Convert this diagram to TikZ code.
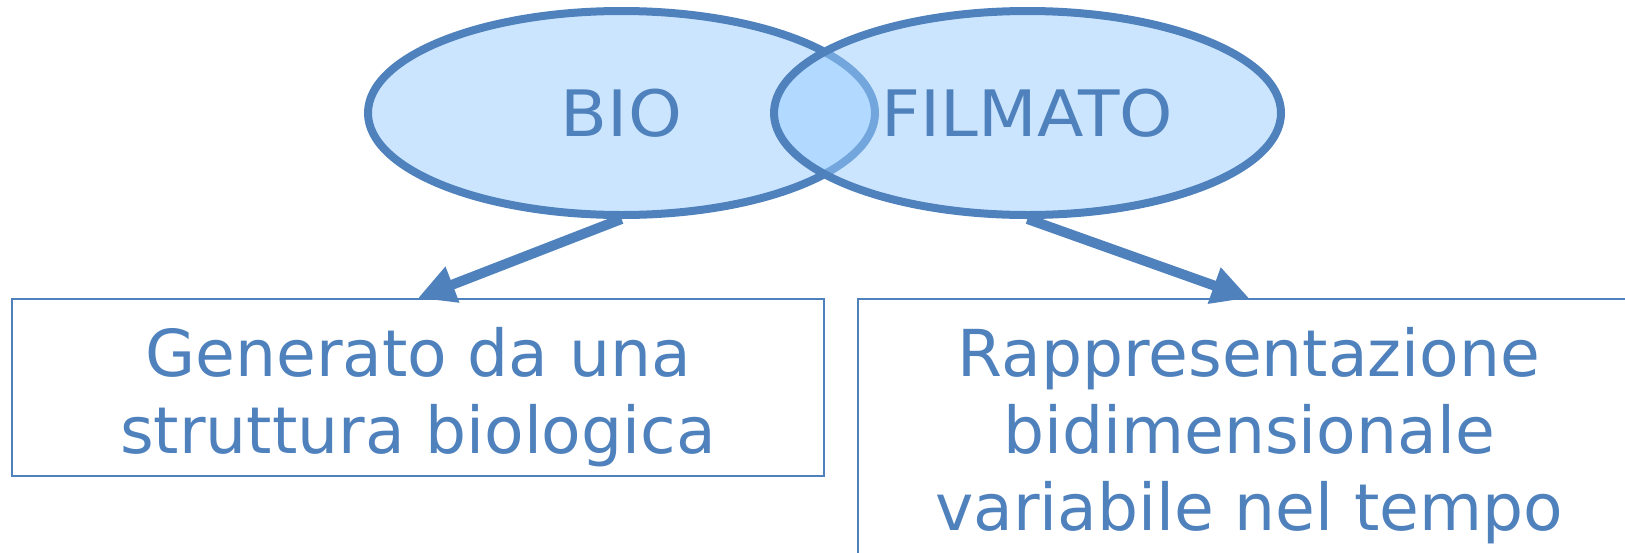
\documentclass[tikz,border=0pt]{standalone}
\usepackage{fontspec}
\setmainfont{DejaVu Sans}
\usetikzlibrary{shapes.geometric,arrows.meta}
\definecolor{bord}{HTML}{4F81BD}
\definecolor{fillb}{RGB}{153,204,255}
\tikzset{
  ell/.style={ellipse, draw=bord, line width=8pt, fill=fillb, fill opacity=0.5, text opacity=1,
    minimum width=507pt, minimum height=204pt, inner sep=0pt, text=bord,
    font=\fontsize{64}{77}\selectfont},
  boxn/.style={rectangle, draw=bord, line width=2pt, inner sep=0pt},
  txt/.style={text=bord, inner sep=0pt, anchor=base, font=\fontsize{64.7}{77}\selectfont},
  conn/.style={draw=bord, line width=10pt, -{Triangle[length=37pt,width=36pt]}}
}
\begin{document}
\begin{tikzpicture}[x=1pt,y=-1pt]
\useasboundingbox (0,0) rectangle (1625,552);
\node[ell] (bio) at (621.5,113) {\scalebox{1.07}[1]{BIO}};
\node[ell] (film) at (1027.5,113) {\scalebox{1.06}[1]{FILMATO}};
\node[boxn, minimum width=812pt, minimum height=177pt] (lbox) at (418,387.5) {};
\node[boxn, minimum width=782pt, minimum height=320pt] (rbox) at (1249,459) {};
\node[txt] (ltext) at (418,376) {\begin{tabular}[t]{@{}c@{}}Generato da una\\struttura biologica\end{tabular}};
\node[txt] (rtext) at (1249,376) {\begin{tabular}[t]{@{}c@{}}Rappresentazione\\bidimensionale\\variabile nel tempo\end{tabular}};
\draw[conn] (bio.south) -- (lbox.north);
\draw[conn] (film.south) -- (rbox.north);
\end{tikzpicture}
\end{document}
